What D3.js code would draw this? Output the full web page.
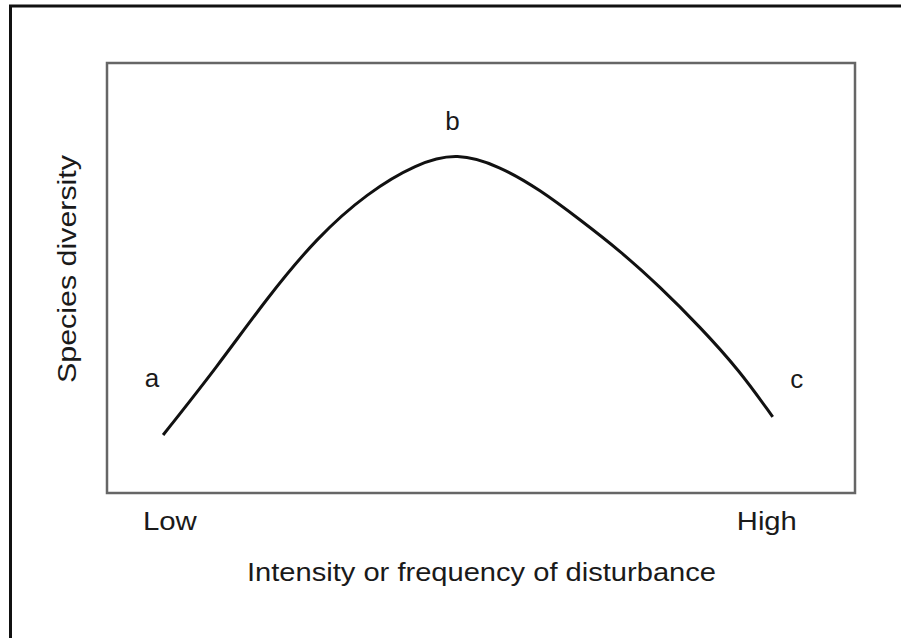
<!DOCTYPE html>
<html>
<head>
<meta charset="utf-8">
<script src="https://cdn.jsdelivr.net/npm/d3@7"></script>
<style>
  body { margin: 0; background: #fff; }
  text { font-family: "Liberation Sans", Arial, Helvetica, sans-serif; fill: #1a1a1a; }
</style>
</head>
<body>
<div id="chart"></div>
<script>
// disturbance level (0 = low, 100 = high) and relative diversity
var disturbance = [7.5, 14.7, 21.4, 28.1, 34.8, 41.4, 46.8, 52.5, 57.9, 63.2, 68.6, 73.9, 79.3, 84.6, 89.0];
var diversity   = [13.5, 29.3, 45.4, 59.5, 69.8, 76.6, 79.2, 76.0, 70.5, 63.6, 56.3, 48.0, 38.6, 28.4, 17.7];

// point labels on the curve
var pointNames = ['a', 'b', 'c'];
var pointX     = [6.0, 46.2, 92.2];
var pointY     = [24.7, 84.4, 24.4];

// axis end labels
var tickLabels = ['Low', 'High'];
var tickX      = [4.8, 84.2];

var width  = 901;
var height = 638;
var margin = { top: 63, right: 46, bottom: 145, left: 107 };
var plotW  = width - margin.left - margin.right;
var plotH  = height - margin.top - margin.bottom;

var svg = d3.select('#chart').append('svg')
  .attr('width', width)
  .attr('height', height);

// outer frame (runs off the right and bottom edge)
svg.append('rect')
  .attr('x', 10.5)
  .attr('y', 6)
  .attr('width', 900)
  .attr('height', 640)
  .attr('fill', 'none')
  .attr('stroke', '#111')
  .attr('stroke-width', 3);

var xScale = d3.scaleLinear().domain([0, 100]).range([0, plotW]);
var yScale = d3.scaleLinear().domain([0, 100]).range([plotH, 0]);

var g = svg.append('g')
  .attr('transform', 'translate(' + margin.left + ',' + margin.top + ')');

// plot box
g.append('rect')
  .attr('width', plotW)
  .attr('height', plotH)
  .attr('fill', 'none')
  .attr('stroke', '#666')
  .attr('stroke-width', 2.5);

var points = disturbance.map(function(d, i) { return [d, diversity[i]]; });

var line = d3.line()
  .x(function(d) { return xScale(d[0]); })
  .y(function(d) { return yScale(d[1]); })
  .curve(d3.curveBasis);

g.append('path')
  .datum(points)
  .attr('d', line)
  .attr('fill', 'none')
  .attr('stroke', '#111')
  .attr('stroke-width', 3);

// a, b, c
g.selectAll('.pt-label').data(pointNames)
  .enter().append('text')
  .attr('class', 'pt-label')
  .attr('x', function(d, i) { return xScale(pointX[i]); })
  .attr('y', function(d, i) { return yScale(pointY[i]); })
  .attr('text-anchor', 'middle')
  .style('font-size', '26px')
  .text(function(d) { return d; });

// Low / High
g.selectAll('.tick-label').data(tickLabels)
  .enter().append('text')
  .attr('class', 'tick-label')
  .attr('x', function(d, i) { return xScale(tickX[i]); })
  .attr('y', plotH + 37)
  .attr('textLength', function(d, i) { return i === 0 ? 54 : 60; })
  .attr('lengthAdjust', 'spacingAndGlyphs')
  .style('font-size', '25px')
  .text(function(d) { return d; });

// x axis title
svg.append('text')
  .attr('x', 247)
  .attr('y', 581)
  .attr('textLength', 469)
  .attr('lengthAdjust', 'spacingAndGlyphs')
  .style('font-size', '25px')
  .text('Intensity or frequency of disturbance');

// y axis title
svg.append('text')
  .attr('transform', 'translate(76,383) rotate(-90)')
  .attr('textLength', 228)
  .attr('lengthAdjust', 'spacingAndGlyphs')
  .style('font-size', '25px')
  .text('Species diversity');
</script>
</body>
</html>
